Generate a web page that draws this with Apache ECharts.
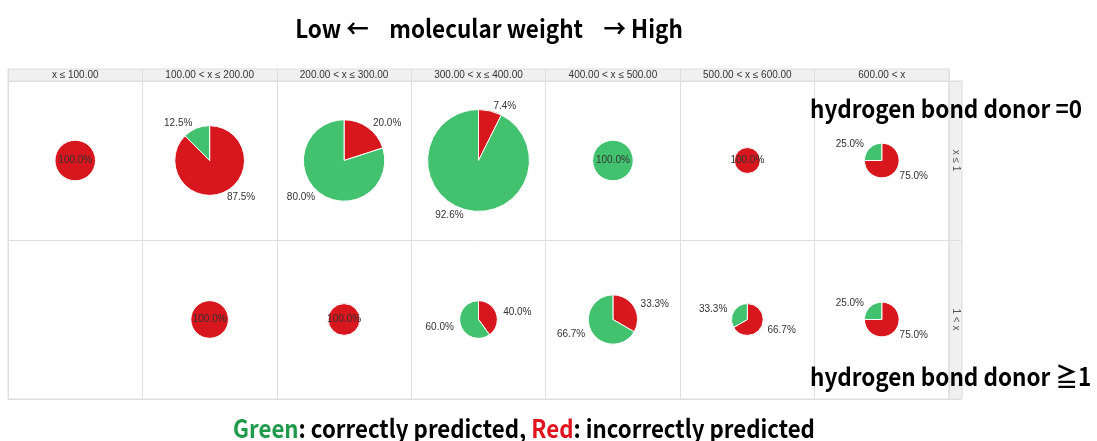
<!DOCTYPE html>
<html><head><meta charset="utf-8">
<script src="https://cdn.jsdelivr.net/npm/echarts@6/dist/echarts.min.js"></script>
<style>html,body{margin:0;padding:0;background:#fff}#c{width:1097px;height:441px}</style>
</head><body><div id="c"></div>
<script>
// ---- data ----
const columns = ['x ≤ 100.00', '100.00 < x ≤ 200.00', '200.00 < x ≤ 300.00', '300.00 < x ≤ 400.00', '400.00 < x ≤ 500.00', '500.00 < x ≤ 600.00', '600.00 < x'];
const rows = ['x ≤ 1', '1 < x'];
// estimated compound counts per cell (row = hydrogen bond donor group, column = molecular weight bin)
const correctRow0   = [0, 2, 16, 25, 6, 0, 1];
const incorrectRow0 = [6, 14, 4, 2, 0, 1, 3];
const correctRow1   = [0, 0, 0, 3, 6, 1, 1];
const incorrectRow1 = [0, 5, 3, 2, 3, 2, 3];
const sliceNames = ['incorrectly predicted', 'correctly predicted'];
const titleText = 'Low \u2190    molecular weight    \u2192 High';
const rowNote0 = 'hydrogen bond donor =0';
const rowNote1 = 'hydrogen bond donor \u22671';
const legendText = '{g|Green}: correctly predicted, {r|Red}: incorrectly predicted';

// ---- styles ----
const RED = '#d7161d', GREEN = '#42c26e';
const LINE = '#dedede', HEAD = '#f0f0f0';
const LABEL_FONT = 'Liberation Sans, Arial, sans-serif';
const NOTE_FONT = '"Noto Sans CJK JP", "Noto Sans", sans-serif';
const NOTE = 'bold 25px ' + NOTE_FONT;
const SX = 0.9;
const R_BASE = 11.5, R_PER = 1.46; // radius scale: r = R_BASE + R_PER * count

const chart = echarts.init(document.getElementById('c'), null, {renderer: 'canvas'});
const hiddenAxis = {axisLine: {show: false}, axisTick: {show: false}};
const split = {show: true, interval: 0, lineStyle: {color: LINE, width: 1}};

chart.setOption({
  animation: false,
  backgroundColor: '#fff',
  grid: [
    {left: 8, right: 148, top: 81, bottom: 42, show: true, borderColor: LINE, borderWidth: 1, backgroundColor: '#fff'},
    {left: 8, right: 148, top: 69, height: 12, show: true, borderColor: LINE, borderWidth: 1, backgroundColor: HEAD},
    {left: 949, width: 13, top: 81, bottom: 42, show: true, borderColor: LINE, borderWidth: 1, backgroundColor: HEAD}
  ],
  xAxis: [
    Object.assign({type: 'category', gridIndex: 0, data: columns, axisLabel: {show: false, interval: 0}, splitLine: split}, hiddenAxis),
    Object.assign({type: 'category', gridIndex: 1, data: columns, position: 'bottom',
      axisLabel: {inside: true, interval: 0, margin: 1, fontSize: 10, color: '#333', fontFamily: LABEL_FONT}, splitLine: split}, hiddenAxis),
    {type: 'value', gridIndex: 2, show: false}
  ],
  yAxis: [
    Object.assign({type: 'category', gridIndex: 0, data: rows, inverse: true, axisLabel: {show: false, interval: 0}, splitLine: split}, hiddenAxis),
    {type: 'value', gridIndex: 1, show: false},
    Object.assign({type: 'category', gridIndex: 2, data: rows, inverse: true, position: 'left',
      axisLabel: {inside: true, interval: 0, rotate: -90, margin: 2, fontSize: 10, color: '#555', fontFamily: LABEL_FONT}, splitLine: split}, hiddenAxis)
  ]
});

const groups = [[correctRow0, incorrectRow0], [correctRow1, incorrectRow1]];
const series = [];
groups.forEach(function (g, ri) {
  const cor = g[0], inc = g[1];
  columns.forEach(function (col, ci) {
    const n = cor[ci] + inc[ci];
    if (!n) return;
    const center = chart.convertToPixel({gridIndex: 0}, [ci, ri]);
    const items = [];
    if (inc[ci]) items.push({name: sliceNames[0], value: inc[ci], itemStyle: {color: RED}});
    if (cor[ci]) items.push({name: sliceNames[1], value: cor[ci], itemStyle: {color: GREEN}});
    const single = items.length === 1;
    series.push({
      type: 'pie', center: center, radius: R_BASE + R_PER * n,
      startAngle: 90, clockwise: true, percentPrecision: 1,
      avoidLabelOverlap: false, silent: true,
      itemStyle: {borderColor: '#fff', borderWidth: 1},
      label: {position: single ? 'center' : 'outside', formatter: function (p) { return p.percent.toFixed(1) + '%'; },
        fontSize: 10, fontFamily: LABEL_FONT, color: '#333', distanceToLabelLine: 2},
      labelLine: {show: false, length: 5, length2: 0},
      emphasis: {disabled: true},
      data: items
    });
  });
});

chart.setOption({
  series: series,
  graphic: [
    {type: 'text', x: 489, y: 28, scaleX: SX, style: {text: titleText, font: NOTE, fill: '#000', align: 'center', verticalAlign: 'middle'}},
    {type: 'text', x: 810, y: 108, scaleX: SX, style: {text: rowNote0, font: NOTE, fill: '#000', align: 'left', verticalAlign: 'middle'}},
    {type: 'text', x: 810, y: 376, scaleX: SX, style: {text: rowNote1, font: NOTE, fill: '#000', align: 'left', verticalAlign: 'middle'}},
    {type: 'text', x: 524, y: 428, scaleX: 0.89, style: {
      text: legendText, font: NOTE, fill: '#000', align: 'center', verticalAlign: 'middle',
      rich: {g: {fill: '#1f9a4a', font: NOTE}, r: {fill: '#e0141e', font: NOTE}}
    }}
  ]
});
</script></body></html>
